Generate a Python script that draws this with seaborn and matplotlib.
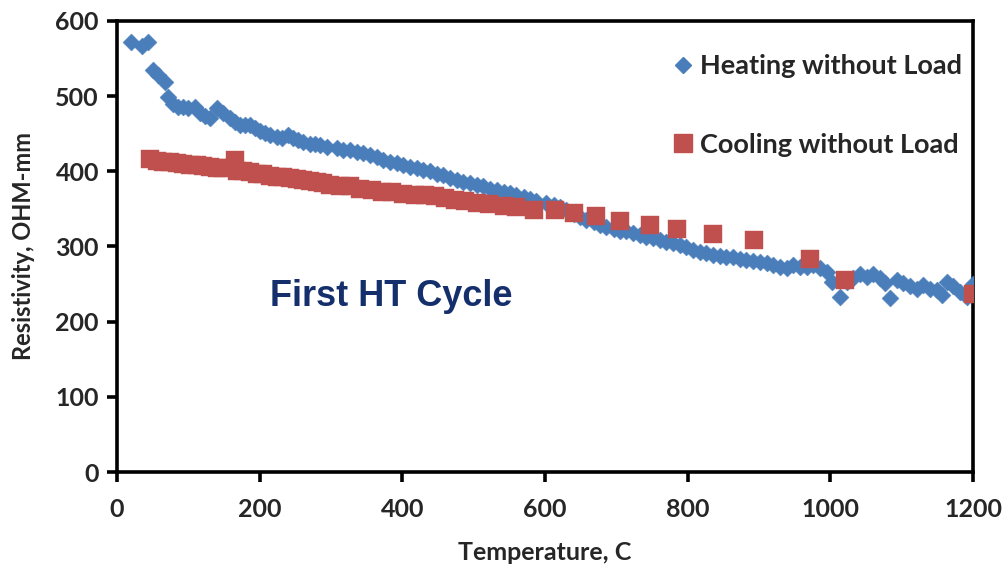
import matplotlib
matplotlib.use("Agg")
import matplotlib.pyplot as plt
import seaborn as sns
import pandas as pd
from matplotlib.lines import Line2D

# Heating without Load (blue diamonds)
heat_temp = [20, 35, 44, 51, 58, 67, 72, 79, 86, 93, 100, 109, 116, 123, 130, 140, 149, 158,
             165, 172, 179, 186, 193, 200, 207, 214, 224, 231, 240, 247, 254, 261, 271, 278,
             285, 294, 308, 317, 327, 336, 345, 355, 364, 373, 383, 392, 401, 411, 420, 429,
             439, 448, 457, 467, 476, 485, 495, 504, 513, 523, 532, 542, 551, 560, 570, 579,
             588, 602, 612, 621, 630, 640, 649, 658, 668, 677, 686, 696, 705, 714, 724, 733,
             742, 752, 761, 770, 779, 789, 798, 807, 817, 826, 835, 845, 854, 863, 873, 882,
             891, 901, 911, 920, 929, 939, 948, 957, 967, 976, 986, 995, 1002, 1014, 1023,
             1032, 1042, 1051, 1060, 1070, 1077, 1084, 1093, 1102, 1112, 1121, 1130, 1140,
             1149, 1156, 1163, 1172, 1182, 1191, 1200]
heat_res = [572, 567, 572, 535, 528, 519, 499, 490, 486, 486, 484, 486, 477, 473, 471, 484, 477, 471,
            466, 462, 462, 462, 457, 453, 451, 448, 446, 444, 448, 444, 442, 439, 437, 437,
            435, 433, 431, 428, 428, 426, 424, 422, 419, 415, 413, 411, 408, 406, 404, 402,
            400, 397, 395, 391, 388, 386, 384, 382, 380, 377, 375, 373, 371, 368, 366, 363,
            361, 358, 355, 352, 348, 343, 339, 335, 332, 329, 326, 323, 320, 321, 318, 315,
            313, 311, 309, 306, 304, 302, 299, 295, 293, 291, 289, 288, 286, 286, 284, 282,
            281, 280, 278, 275, 273, 271, 275, 273, 273, 275, 271, 266, 253, 233, 253,
            258, 264, 260, 264, 258, 251, 232, 255, 251, 247, 244, 249, 244,
            242, 235, 253, 247, 240, 233, 250]

# Cooling without Load (red squares)
cool_temp = [46, 56, 65, 74, 84, 93, 102, 112, 121, 130, 140, 149, 165, 168, 177, 186, 196, 205,
             214, 224, 233, 243, 252, 261, 271, 280, 289, 299, 313, 327, 341, 357, 371, 385,
             401, 418, 432, 446, 460, 474, 488, 504, 521, 542, 560, 584, 614, 640, 672, 705,
             747, 785, 835, 893, 972, 1021, 1200]
cool_res = [416, 414, 413, 412, 411, 410, 409, 408, 407, 406, 405, 405, 415, 401, 400, 399, 397, 396,
            394, 393, 392, 391, 390, 389, 387, 386, 384, 382, 380, 380, 377, 375, 373, 372,
            370, 368, 368, 367, 364, 362, 361, 358, 357, 354, 352, 349, 348, 344, 340, 334,
            329, 323, 317, 308, 284, 255, 237]

x_ticks = [0, 200, 400, 600, 800, 1000, 1200]
y_ticks = [0, 100, 200, 300, 400, 500, 600]

heat_label = "Heating without Load"
cool_label = "Cooling without Load"
blue = "#4A7EBB"
red = "#C0504D"

sns.set_style("white")
plt.rcParams['font.family'] = ['Lato', 'DejaVu Sans']
plt.rcParams['font.weight'] = 'bold'

fig = plt.figure(figsize=(10.08, 5.70), dpi=100)
ax = fig.add_axes([0.1161, 0.1719, 0.8492, 0.7913])

heat_df = pd.DataFrame({"T": heat_temp, "R": heat_res})
cool_df = pd.DataFrame({"T": cool_temp, "R": cool_res})

sns.scatterplot(data=heat_df, x="T", y="R", marker="D", s=75, color=blue,
                edgecolor=blue, linewidth=0.3, ax=ax, zorder=3)
sns.scatterplot(data=cool_df, x="T", y="R", marker="s", s=165, color=red,
                edgecolor=red, linewidth=0.3, ax=ax, zorder=4)

ax.set_xlim(0, 1200)
ax.set_ylim(0, 600)
ax.set_xticks(x_ticks)
ax.set_yticks(y_ticks)
ax.set_xticklabels([str(v) for v in x_ticks], fontsize=18, fontweight='bold')
ax.set_yticklabels([str(v) for v in y_ticks], fontsize=18, fontweight='bold')

for sp in ax.spines.values():
    sp.set_visible(True)
    sp.set_color('black')
    sp.set_linewidth(2.6)

ax.tick_params(axis='both', direction='out', length=7, width=2.6, color='black',
               bottom=True, left=True, top=False, right=False)
ax.tick_params(axis='x', pad=12)
ax.tick_params(axis='y', pad=6)

ax.set_xlabel("Temperature, C", fontsize=18, fontweight='bold', labelpad=14)
ax.set_ylabel("Resistivity, OHM-mm", fontsize=17, fontweight='bold', labelpad=15)

ax.text(214, 221, "First HT Cycle", fontsize=26, fontweight='bold', color='#142F6B',
        family=['Liberation Sans', 'DejaVu Sans'], ha='left', va='baseline')

handles = [Line2D([], [], marker='D', linestyle='none', color=blue, markersize=8.5),
           Line2D([], [], marker='s', linestyle='none', color=red, markersize=12.5)]
leg = ax.legend(handles, [heat_label, cool_label], loc='upper right', frameon=False,
                prop={'size': 19.5, 'weight': 'bold'}, labelspacing=2.0,
                handletextpad=0.1, handlelength=1.1, borderaxespad=0.0,
                bbox_to_anchor=(1.0, 0.95))

fig.savefig("out.png", dpi=100, facecolor='white')
